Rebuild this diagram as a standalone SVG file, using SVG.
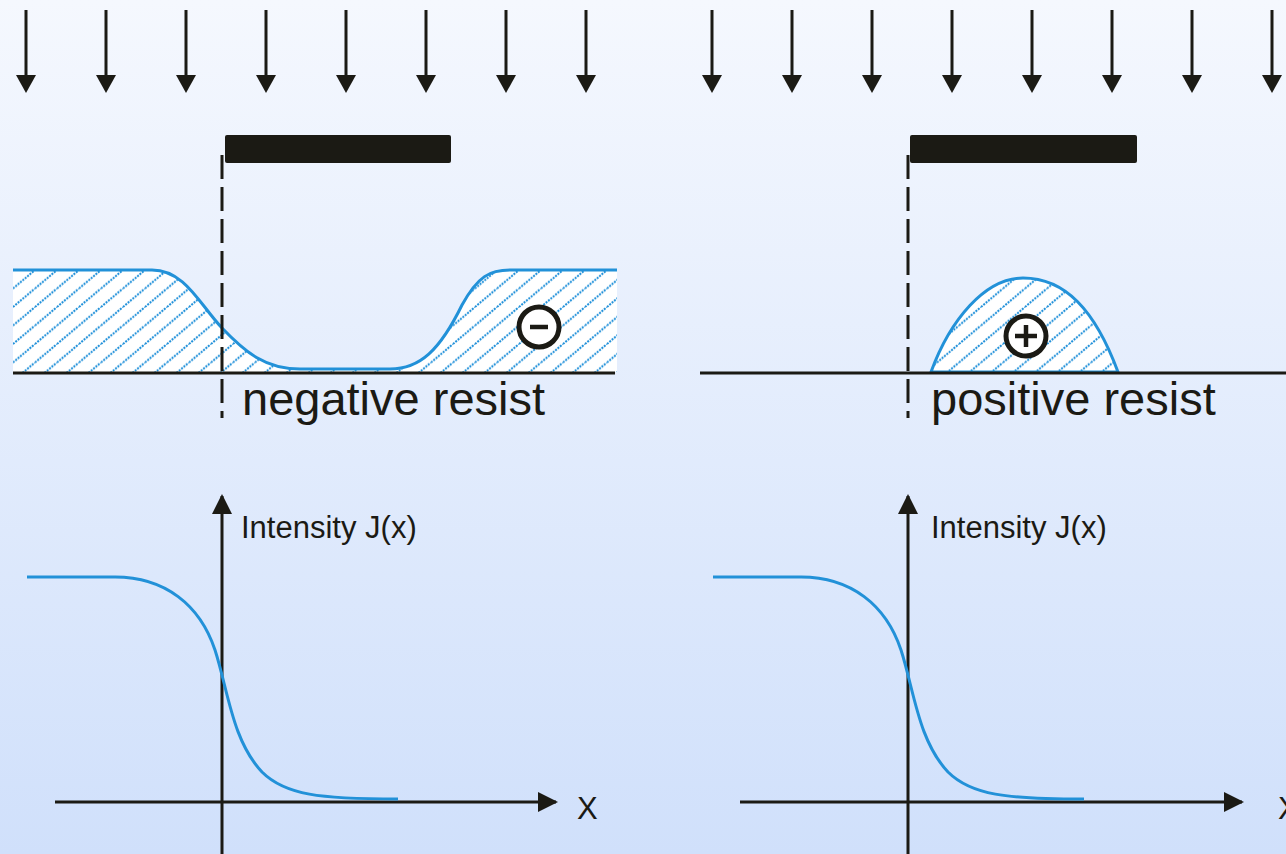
<svg xmlns="http://www.w3.org/2000/svg" width="1286" height="854" viewBox="0 0 1286 854">
<style>
.ink{stroke:#1b1a14;stroke-width:3;fill:none}
.dash{stroke:#1b1a14;stroke-width:3;fill:none;stroke-dasharray:24 8}
.blue{stroke:#2291d8;stroke-width:3;fill:none}
.mask{fill:#1b1a14}
.big{font-family:"Liberation Sans",Arial,sans-serif;font-size:47px;fill:#1b1a14}
.small{font-family:"Liberation Sans",Arial,sans-serif;font-size:31px;fill:#1b1a14}
.sym{fill:#fff;stroke:#1b1a14;stroke-width:5}
.symline{stroke:#1b1a14;stroke-width:4.5}
</style>
<defs>
<linearGradient id="bg" x1="0" y1="0" x2="0" y2="1">
<stop offset="0" stop-color="#f5f8fe"/>
<stop offset="1" stop-color="#d0e0fb"/>
</linearGradient>
<pattern id="hatch" patternUnits="userSpaceOnUse" x="13" y="270" width="22" height="18.5">
<rect width="22" height="18.5" fill="#fff"/>
<path d="M0,18.5 L22,0 M-2.4,2 L2.4,-2 M19.6,20.5 L24.4,16.5" stroke="#1f90da" stroke-width="2" stroke-dasharray="2 1.1"/>
</pattern>
<g id="dn">
<line x1="0" y1="10" x2="0" y2="80" stroke="#1b1a14" stroke-width="3"/>
<path d="M-10,75 L10,75 L0,93 Z" fill="#1b1a14"/>
</g>
<marker id="ah" markerUnits="userSpaceOnUse" markerWidth="20" markerHeight="22" viewBox="0 0 20 22" refX="18" refY="11" orient="auto">
<path d="M0,1 L20,11 L0,21 Z" fill="#1b1a14"/>
</marker>
</defs>
<rect width="1286" height="854" fill="url(#bg)"/>

<g id="connectors">
<g id="rays-left">
<use href="#dn" x="26"/><use href="#dn" x="106"/><use href="#dn" x="186"/><use href="#dn" x="266"/>
<use href="#dn" x="346"/><use href="#dn" x="426"/><use href="#dn" x="506"/><use href="#dn" x="586"/>
</g>
<g id="rays-right">
<use href="#dn" x="712"/><use href="#dn" x="792"/><use href="#dn" x="872"/><use href="#dn" x="952"/>
<use href="#dn" x="1032"/><use href="#dn" x="1112"/><use href="#dn" x="1192"/><use href="#dn" x="1272"/>
</g>
</g>

<g id="resist-left">
<path d="M13,270 L152,270 C185,270 200,305 222,328 C245,352 265,369 300,369 L390,369 C420,369 440,350 462,305 C478,276 490,270 510,270 L617,270 L617,372 L13,372 Z" fill="url(#hatch)"/>
<path class="blue" d="M13,270 L152,270 C185,270 200,305 222,328 C245,352 265,369 300,369 L390,369 C420,369 440,350 462,305 C478,276 490,270 510,270 L617,270"/>
<line class="ink" x1="13" y1="373" x2="615" y2="373"/>
<circle class="sym" cx="539" cy="327" r="20"/>
<line class="symline" x1="530" y1="327" x2="548" y2="327"/>
</g>

<g id="resist-right">
<path d="M931,372 C950,320 985,278 1023,278 C1065,278 1095,310 1118,372 Z" fill="url(#hatch)" stroke="#2291d8" stroke-width="3"/>
<line class="ink" x1="700" y1="373" x2="1286" y2="373"/>
<circle class="sym" cx="1026" cy="336" r="20"/>
<line class="symline" x1="1015" y1="336" x2="1037" y2="336"/>
<line class="symline" x1="1026" y1="325" x2="1026" y2="347"/>
</g>

<g id="mask-left">
<rect class="mask" x="225" y="135" width="226" height="28" rx="2"/>
<line class="dash" x1="222" y1="155" x2="222" y2="418"/>
</g>
<g id="mask-right">
<rect class="mask" x="910" y="135" width="227" height="28" rx="2"/>
<line class="dash" x1="908" y1="155" x2="908" y2="418"/>
</g>

<g id="label-negative"><text class="big" x="242" y="415">negative resist</text></g>
<g id="label-positive"><text class="big" x="931" y="415">positive resist</text></g>

<g id="plot-left">
<line class="ink" x1="222" y1="854" x2="222" y2="496" marker-end="url(#ah)"/>
<line class="ink" x1="55" y1="802" x2="556" y2="802" marker-end="url(#ah)"/>
<path class="blue" d="M27,577 L115,577 C165,577 200,605 215,650 C228,690 232,740 262,772 C285,795 320,799 398,799"/>
<text class="small" x="241" y="538">Intensity J(x)</text>
<text class="small" x="577" y="819">X</text>
</g>
<g id="plot-right">
<line class="ink" x1="908" y1="854" x2="908" y2="496" marker-end="url(#ah)"/>
<line class="ink" x1="740" y1="802" x2="1242" y2="802" marker-end="url(#ah)"/>
<path class="blue" d="M713,577 L801,577 C851,577 886,605 901,650 C914,690 918,740 948,772 C971,795 1006,799 1084,799"/>
<text class="small" x="931" y="538">Intensity J(x)</text>
<text class="small" x="1278" y="819">X</text>
</g>
</svg>
